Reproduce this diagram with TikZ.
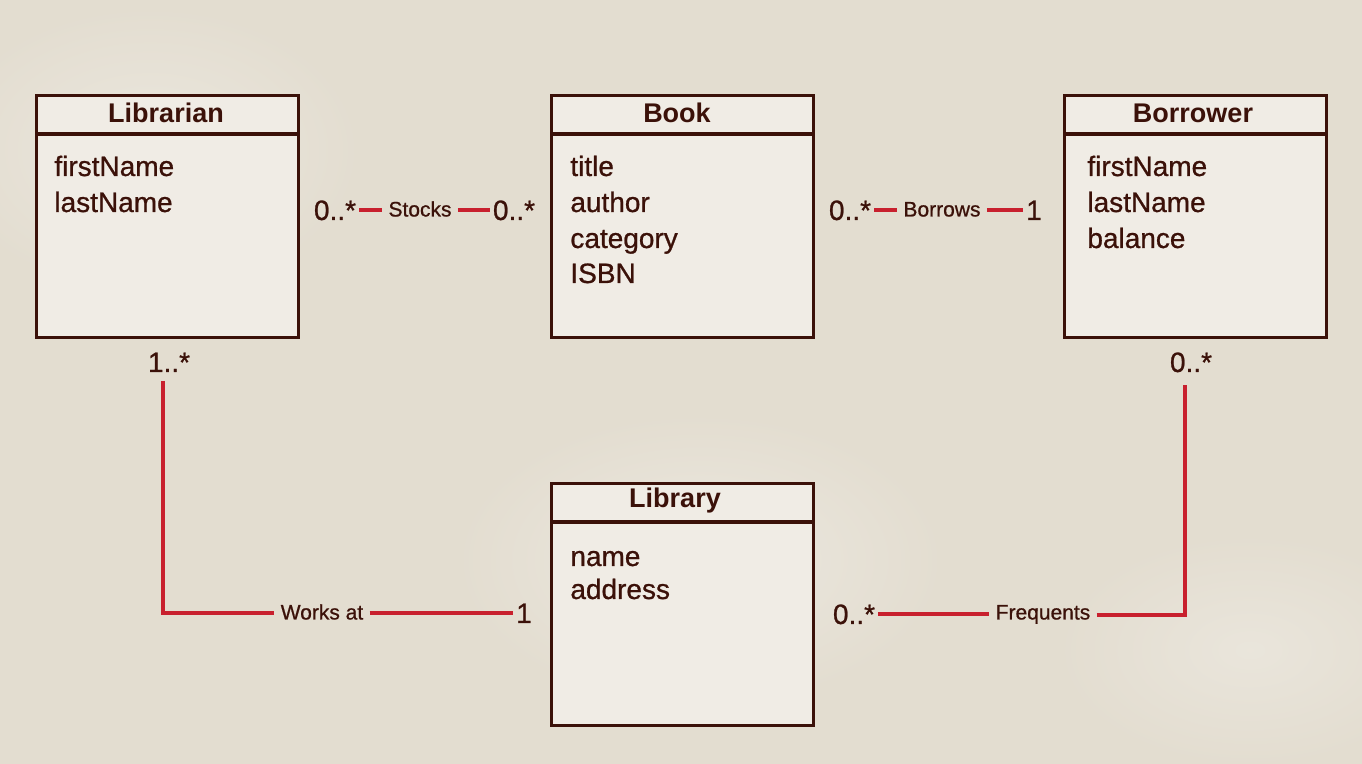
\documentclass[tikz,border=0pt]{standalone}
\usepackage{fontspec}
\setmainfont{Liberation Sans}
\newfontfamily\medfont[FakeBold=0.8]{Liberation Sans}
\usetikzlibrary{calc}
\definecolor{bg}{HTML}{E3DDD0}
\definecolor{boxfill}{HTML}{F0ECE5}
\definecolor{ink}{HTML}{3B1109}
\definecolor{rel}{HTML}{C8202E}
\tikzset{
  classbox/.style={draw=ink, line width=1.6pt, fill=boxfill, minimum width=131pt, minimum height=121pt, anchor=north west, inner sep=0pt},
  divider/.style={draw=ink, line width=1.6pt},
  ctitle/.style={font=\bfseries\fontsize{13.5}{15}\selectfont, text=ink, inner sep=0pt},
  attr/.style={font=\medfont\fontsize{14}{16}\selectfont, text=ink, anchor=west, inner sep=0pt, text height=10pt, text depth=3pt},
  mult/.style={font=\medfont\fontsize{14}{16}\selectfont, text=ink, inner sep=1.5pt, text height=10pt, text depth=0pt},
  rlabel/.style={font=\medfont\fontsize{10.5}{12}\selectfont, text=ink, inner sep=3pt, text height=7.5pt, text depth=2pt},
  relline/.style={draw=rel, line width=2pt},
}
\begin{document}
\begin{tikzpicture}[x=0.5pt,y=-0.5pt]
\fill[bg] (0,0) rectangle (1362,764);
\useasboundingbox (0,0) rectangle (1362,764);
\shade[inner color=white, outer color=bg, opacity=0.35] (700,560) ellipse (250 and 150);
\shade[inner color=white, outer color=bg, opacity=0.3] (150,150) ellipse (220 and 150);
\shade[inner color=white, outer color=bg, opacity=0.25] (1250,650) ellipse (200 and 120);

% classes
\node[classbox] (librarian) at (35,94) {};
\node[classbox] (book) at (550,94) {};
\node[classbox] (borrower) at (1063,94) {};
\node[classbox] (library) at (550,482) {};
\foreach \b in {librarian,book,borrower,library}{
  \draw[divider] ([yshift=-20pt]\b.north west) -- ([yshift=-20pt]\b.north east);
}
\node[ctitle] (librarianT) at (166,113) {Librarian};
\node[ctitle] (bookT) at (677,113) {Book};
\node[ctitle] (borrowerT) at (1193,113) {Borrower};
\node[ctitle] (libraryT) at (675,501) {Library};

\node[attr] (la1) at (54,169) {firstName};
\node[attr] (la2) at (54,205) {lastName};
\node[attr] (ba1) at (570,169) {title};
\node[attr] (ba2) at (570,205) {author};
\node[attr] (ba3) at (570,241) {category};
\node[attr] (ba4) at (570,276) {ISBN};
\node[attr] (ra1) at (1087,169) {firstName};
\node[attr] (ra2) at (1087,205) {lastName};
\node[attr] (ra3) at (1087,241) {balance};
\node[attr] (ya1) at (570,559) {name};
\node[attr] (ya2) at (570,592) {address};

% Stocks
\node[mult] (s1) at (335,210) {0..*};
\node[rlabel] (stocks) at (420,211) {Stocks};
\node[mult] (s2) at (514,210) {0..*};
\draw[relline] (s1.east) -- (stocks.west |- s1.east);
\draw[relline] (stocks.east |- s2.west) -- (s2.west);

% Borrows
\node[mult] (b1) at (850,210) {0..*};
\node[rlabel] (borrows) at (942,211) {Borrows};
\node[mult] (b2) at (1034,210) {1};
\draw[relline] (b1.east) -- (borrows.west |- b1.east);
\draw[relline] (borrows.east |- b2.west) -- (b2.west);

% Works at
\node[mult] (w1) at (169,362) {1..*};
\node[rlabel] (works) at (322,614) {Works at};
\node[mult] (w2) at (524,613) {1};
\coordinate (wtop) at (163,381);
\coordinate (wcorner) at (163,613);
\draw[relline] (wtop) -- (wcorner) -- (works.west |- wcorner);
\draw[relline] (works.east |- w2.west) -- (w2.west);

% Frequents
\node[mult] (f1) at (854,614) {0..*};
\node[rlabel] (freq) at (1043,614) {Frequents};
\node[mult] (f2) at (1191,362) {0..*};
\coordinate (ftop) at (1185,385);
\coordinate (fcorner) at (1185,615);
\draw[relline] (f1.east) -- (freq.west |- f1.east);
\draw[relline] (freq.east |- fcorner) -- (fcorner) -- (ftop);
\end{tikzpicture}
\end{document}
